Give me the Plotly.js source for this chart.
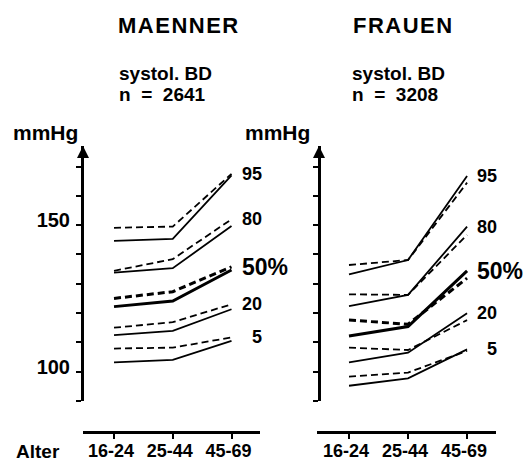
<!DOCTYPE html>
<html>
<head>
<meta charset="utf-8">
<script src="https://cdn.plot.ly/plotly-3.0.1.min.js"></script>
<style>html,body{margin:0;padding:0;background:#fff;}</style>
</head>
<body>
<div id="chart" style="width:527px;height:462px;"></div>
<script>
// ---- data ----
const ages = ['16-24', '25-44', '45-69'];
const percentiles = ['95', '80', '50%', '20', '5'];

// Men (MAENNER), solid lines
const menSolid95 = [144.6, 145.3, 167.0];
const menSolid80 = [133.8, 135.3, 149.7];
const menSolid50 = [122.2, 124.1, 134.7];
const menSolid20 = [112.5, 113.9, 121.3];
const menSolid5  = [103.2, 104.0, 110.5];
// Men, dashed lines
const menDash95 = [149.1, 149.5, 167.5];
const menDash80 = [134.4, 138.4, 152.0];
const menDash50 = [125.0, 127.3, 135.8];
const menDash20 = [115.0, 116.9, 123.0];
const menDash5  = [107.9, 108.2, 111.7];

// Women (FRAUEN), solid lines
const womSolid95 = [133.2, 138.1, 166.8];
const womSolid80 = [122.4, 126.2, 149.5];
const womSolid50 = [112.2, 115.4, 134.4];
const womSolid20 = [103.2, 106.5, 119.9];
const womSolid5  = [95.2, 97.7, 107.6];
// Women, dashed lines
const womDash95 = [136.4, 138.1, 164.5];
const womDash80 = [126.4, 126.2, 146.7];
const womDash50 = [117.6, 116.2, 131.9];
const womDash20 = [108.2, 107.4, 117.6];
const womDash5  = [98.3, 99.7, 107.1];

const yTickVals = [90, 100, 110, 120, 130, 140, 150, 160, 170];
const yTickText = ['', '100', '', '', '', '', '150', '', ''];

// ---- build ----
const FONT = 'Liberation Sans, Arial, Helvetica, sans-serif';
const W = 527, H = 462;
const px = v => v / W;
const py = v => 1 - v / H;

const menSolid = [menSolid95, menSolid80, menSolid50, menSolid20, menSolid5];
const menDash = [menDash95, menDash80, menDash50, menDash20, menDash5];
const womSolid = [womSolid95, womSolid80, womSolid50, womSolid20, womSolid5];
const womDash = [womDash95, womDash80, womDash50, womDash20, womDash5];

const traces = [];
function addSet(sets, xa, ya, dash) {
  sets.forEach((ys, i) => {
    traces.push({
      x: ages, y: ys, xaxis: xa, yaxis: ya, type: 'scatter', mode: 'lines',
      line: {color: '#000', width: percentiles[i] === '50%' ? 3 : 1.8, dash: dash ? '7px,4px' : 'solid'},
      hoverinfo: 'skip', showlegend: false
    });
  });
}
addSet(menSolid, 'x', 'y', false);
addSet(menDash, 'x', 'y', true);
addSet(womSolid, 'x2', 'y2', false);
addSet(womDash, 'x2', 'y2', true);

const annotations = [];
function pctLabels(solid, dash, xref, yref) {
  percentiles.forEach((p, i) => {
    const yEnd = Math.max(solid[i][2], dash[i][2]);
    const is50 = p === '50%';
    annotations.push({
      x: ages[2], y: yEnd, xref: xref, yref: yref,
      text: '<b>' + p + '</b>', showarrow: false,
      xanchor: is50 ? 'left' : 'right', yanchor: 'middle',
      xshift: is50 ? 8 : 32,
      font: {family: FONT, size: is50 ? 23 : 18, color: '#000'}
    });
  });
}
pctLabels(menSolid, menDash, 'x', 'y');
pctLabels(womSolid, womDash, 'x2', 'y2');

function txt(text, x, y, size) {
  annotations.push({
    xref: 'paper', yref: 'paper', x: px(x), y: py(y), text: '<b>' + text + '</b>',
    showarrow: false, xanchor: 'left', yanchor: 'middle',
    font: {family: FONT, size: size, color: '#000'}
  });
}
txt('<span style="letter-spacing:1.5px">MAENNER</span>', 116, 26, 22);
txt('<span style="letter-spacing:1.5px">FRAUEN</span>', 351, 26, 22);
txt('systol.\u00a0BD', 117, 73, 19);
txt('systol.\u00a0BD', 350, 73, 19);
txt('n\u00a0\u00a0=\u00a0\u00a02641', 117, 94, 19);
txt('n\u00a0\u00a0=\u00a0\u00a03208', 350, 94, 19);
txt('mmHg', 11, 132, 21);
txt('mmHg', 243, 132, 21);
txt('Alter', 14, 451, 19);

// arrow heads on the y axes
[['y', px(83)], ['y2', px(319)]].forEach(([yr, xp]) => {
  annotations.push({
    xref: 'paper', yref: yr, x: xp, y: 177, ax: 0, ay: 14, axref: 'pixel', ayref: 'pixel',
    text: '', showarrow: true, arrowhead: 2, arrowsize: 1.2, arrowwidth: 2, arrowcolor: '#000'
  });
});

const yDomain = [1 - 401 / H, 1 - 146 / H];
const xPos = 1 - 432 / H;

function yAxis(withLabels, pos) {
  return {
    domain: yDomain, range: [90, 177], showgrid: false, zeroline: false,
    anchor: 'free', position: pos,
    showline: true, linecolor: '#000', linewidth: 2.5,
    tickmode: 'array', tickvals: yTickVals, ticktext: withLabels ? yTickText : yTickVals.map(() => ''),
    ticks: 'outside', ticklen: 5, tickwidth: 2, tickcolor: '#000',
    tickfont: {family: FONT, size: 20, color: '#000', weight: 'bold'},
    ticklabelstandoff: 2, ticklabelshift: -5, fixedrange: true
  };
}
function xAxis(domain, range) {
  return {
    domain: domain, range: range, anchor: 'free', position: xPos,
    showgrid: false, zeroline: false, showline: true, linecolor: '#000', linewidth: 2.5,
    ticks: 'outside', ticklen: 5, tickwidth: 2, tickcolor: '#000',
    tickfont: {family: FONT, size: 18, color: '#000', weight: 'bold'},
    ticklabelstandoff: -3, ticklabelshift: -3, fixedrange: true, type: 'category'
  };
}

const layout = {
  width: W, height: H, margin: {l: 0, r: 0, t: 0, b: 0},
  paper_bgcolor: '#fff', plot_bgcolor: 'rgba(0,0,0,0)',
  showlegend: false,
  xaxis: xAxis([px(83), px(260)], [-0.528, 2.485]),
  yaxis: yAxis(true, px(82)),
  xaxis2: xAxis([px(317), px(496)], [-0.542, 2.49]),
  yaxis2: yAxis(false, px(319)),
  annotations: annotations
};

Plotly.newPlot('chart', traces, layout, {staticPlot: true, displayModeBar: false});
</script>
</body>
</html>
